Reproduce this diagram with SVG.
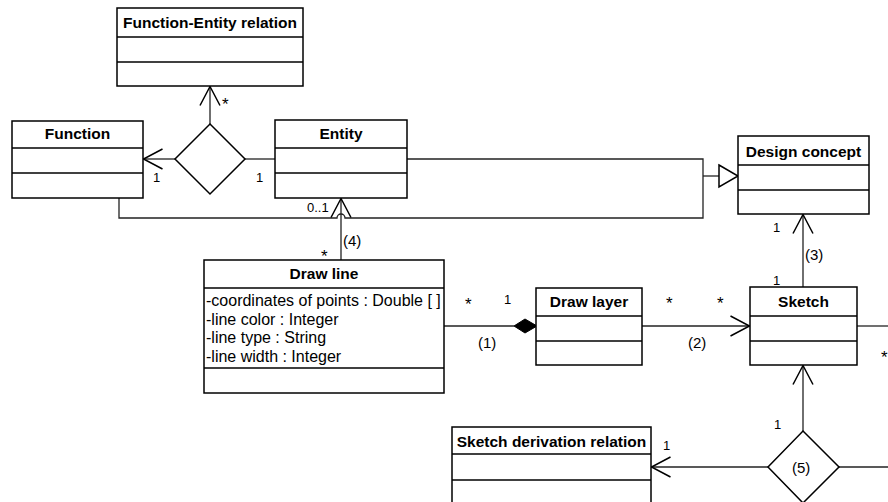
<svg xmlns="http://www.w3.org/2000/svg" width="888" height="502" viewBox="0 0 888 502">
<style>
.box{fill:#fff;stroke:#000;stroke-width:1.5}
.sep{stroke:#000;stroke-width:1.5}
.title{font-family:"Liberation Sans",Arial,sans-serif;font-weight:bold;font-size:15.5px;text-anchor:middle;fill:#000}
.attr{font-family:"Liberation Sans",Arial,sans-serif;font-size:16px;fill:#000}
.lbl{font-family:"Liberation Sans",Arial,sans-serif;font-size:13px;fill:#000}
.ast{font-family:"Liberation Sans",Arial,sans-serif;font-size:17px;fill:#000}
.num{font-family:"Liberation Sans",Arial,sans-serif;font-size:15px;fill:#000}
.conn{fill:none;stroke:#222;stroke-width:1.3}
.dia{fill:#fff;stroke:#000;stroke-width:1.5}
</style>
<defs>
<marker id="open" markerUnits="userSpaceOnUse" markerWidth="22" markerHeight="24" refX="20" refY="11" orient="auto" overflow="visible">
<path d="M1,1 L20,11 L1,21" fill="none" stroke="#000" stroke-width="1.5"/>
</marker>
</defs>
<rect width="888" height="502" fill="#fff"/>

<g id="connectors">
<line class="conn" x1="210" y1="124" x2="210" y2="86.5" marker-end="url(#open)"/>
<line class="conn" x1="175" y1="159" x2="143.5" y2="159" marker-end="url(#open)"/>
<line class="conn" x1="245" y1="159" x2="275" y2="159"/>
<path class="conn" d="M407,159 L703,159 L703,218 L345,218 A4,4 0 0 0 337,218 L119,218 L119,198"/>
<line class="conn" x1="703" y1="176" x2="719" y2="176"/>
<polygon points="719,165 738,176 719,187" fill="#fff" stroke="#000" stroke-width="1.5"/>
<line class="conn" x1="341" y1="260" x2="341" y2="198.5" marker-end="url(#open)"/>
<line class="conn" x1="803" y1="287" x2="803" y2="214.5" marker-end="url(#open)"/>
<line class="conn" x1="444" y1="326" x2="514" y2="326"/>
<polygon points="514,326 525,319 537,326 525,333" fill="#000" stroke="#000" stroke-width="1"/>
<line class="conn" x1="642" y1="326" x2="749.5" y2="326" marker-end="url(#open)"/>
<line class="conn" x1="857" y1="326" x2="888" y2="326"/>
<line class="conn" x1="803" y1="431" x2="803" y2="365.5" marker-end="url(#open)"/>
<line class="conn" x1="768" y1="467" x2="651.5" y2="467" marker-end="url(#open)"/>
<line class="conn" x1="839" y1="467" x2="888" y2="467"/>

<text class="ast" x="222" y="110">*</text>
<text class="lbl" x="153" y="182">1</text>
<text class="lbl" x="256" y="182">1</text>
<text class="lbl" x="307" y="212">0..1</text>
<text class="ast" x="321" y="262">*</text>
<text class="num" x="343" y="246">(4)</text>
<text class="lbl" x="773" y="232">1</text>
<text class="num" x="805" y="260">(3)</text>
<text class="lbl" x="773" y="285">1</text>
<text class="ast" x="465" y="310">*</text>
<text class="lbl" x="504" y="304">1</text>
<text class="num" x="478" y="348">(1)</text>
<text class="ast" x="666" y="309">*</text>
<text class="ast" x="717" y="309">*</text>
<text class="num" x="688" y="348">(2)</text>
<text class="ast" x="881" y="363">*</text>
<text class="lbl" x="774" y="429">1</text>
<text class="lbl" x="663" y="450">1</text>
</g>

<g id="function-entity-relation">
<rect class="box" x="117" y="8" width="186" height="78"/>
<line class="sep" x1="117" y1="37" x2="303" y2="37"/>
<line class="sep" x1="117" y1="62" x2="303" y2="62"/>
<text class="title" x="210" y="28">Function-Entity relation</text>
</g>

<g id="function">
<rect class="box" x="12" y="121" width="131" height="77"/>
<line class="sep" x1="12" y1="148" x2="143" y2="148"/>
<line class="sep" x1="12" y1="173" x2="143" y2="173"/>
<text class="title" x="77.5" y="139">Function</text>
</g>

<g id="fe-diamond">
<polygon class="dia" points="210,124 245,159 210,194 175,159"/>
</g>

<g id="entity">
<rect class="box" x="275" y="120" width="132" height="78"/>
<line class="sep" x1="275" y1="148" x2="407" y2="148"/>
<line class="sep" x1="275" y1="173" x2="407" y2="173"/>
<text class="title" x="341" y="139">Entity</text>
</g>

<g id="design-concept">
<rect class="box" x="738" y="136" width="131" height="78"/>
<line class="sep" x1="738" y1="165" x2="869" y2="165"/>
<line class="sep" x1="738" y1="190" x2="869" y2="190"/>
<text class="title" x="803.5" y="157">Design concept</text>
</g>

<g id="draw-line">
<rect class="box" x="204" y="260" width="240" height="133"/>
<line class="sep" x1="204" y1="288" x2="444" y2="288"/>
<line class="sep" x1="204" y1="368" x2="444" y2="368"/>
<text class="title" x="324" y="279">Draw line</text>
<text class="attr" x="206" y="306">-coordinates of points : Double [ ]</text>
<text class="attr" x="206" y="324.5">-line color : Integer</text>
<text class="attr" x="206" y="343">-line type : String</text>
<text class="attr" x="206" y="361.5">-line width : Integer</text>
</g>

<g id="draw-layer">
<rect class="box" x="536" y="288" width="106" height="77"/>
<line class="sep" x1="536" y1="316" x2="642" y2="316"/>
<line class="sep" x1="536" y1="341" x2="642" y2="341"/>
<text class="title" x="589" y="307">Draw layer</text>
</g>

<g id="sketch">
<rect class="box" x="750" y="287" width="107" height="78"/>
<line class="sep" x1="750" y1="316" x2="857" y2="316"/>
<line class="sep" x1="750" y1="341" x2="857" y2="341"/>
<text class="title" x="803.5" y="307">Sketch</text>
</g>

<g id="sketch-derivation-relation">
<rect class="box" x="452" y="427" width="199" height="80"/>
<line class="sep" x1="452" y1="454" x2="651" y2="454"/>
<line class="sep" x1="452" y1="480" x2="651" y2="480"/>
<text class="title" x="551.5" y="447">Sketch derivation relation</text>
</g>

<g id="sd-diamond">
<polygon class="dia" points="803,431 839,467 803,503 768,467"/>
<text class="num" x="792" y="473">(5)</text>
</g>
</svg>
